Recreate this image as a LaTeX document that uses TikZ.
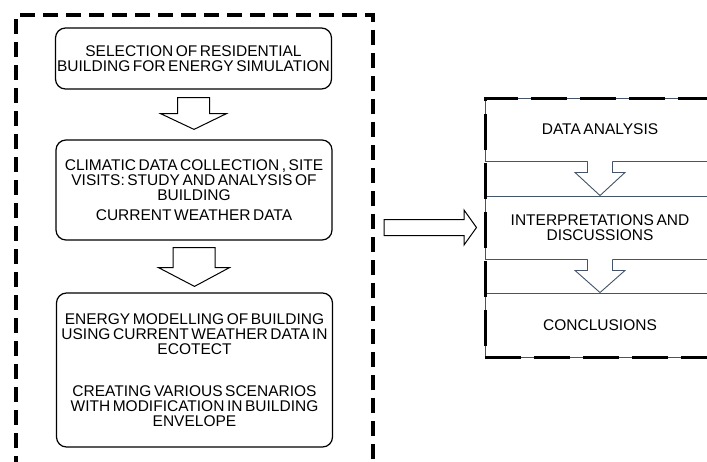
\documentclass[tikz,border=0pt]{standalone}
\usepackage{fontspec}
\setmainfont[WordSpace=0.6]{Liberation Sans}
\usetikzlibrary{positioning}
\usetikzlibrary{calc}

\definecolor{slate}{HTML}{44546A}

% block arrow pointing down: start, tip, half stem, half head, neck offset
\newcommand{\downblock}[5]{%
  \draw[blockarrow] ($(#1)+(-#3,0)$) -- ($(#1)+(-#3,#5)$) -- ($(#1)+(-#4,#5)$)
    -- (#2) -- ($(#1)+(#4,#5)$) -- ($(#1)+(#3,#5)$) -- ($(#1)+(#3,0)$) -- cycle;}
% same, but open at the top (sits on a box edge)
\newcommand{\downopen}[5]{%
  \fill[white] ($(#1)+(-#3,-2)$) -- ($(#1)+(-#3,#5)$) -- ($(#1)+(-#4,#5)$)
    -- (#2) -- ($(#1)+(#4,#5)$) -- ($(#1)+(#3,#5)$) -- ($(#1)+(#3,-2)$) -- cycle;
  \draw[openarrow] ($(#1)+(-#3,0)$) -- ($(#1)+(-#3,#5)$) -- ($(#1)+(-#4,#5)$)
    -- (#2) -- ($(#1)+(#4,#5)$) -- ($(#1)+(#3,#5)$) -- ($(#1)+(#3,0)$);}
% block arrow pointing right
\newcommand{\rightblock}[5]{%
  \draw[blockarrow] ($(#1)+(0,-#3)$) -- ($(#1)+(#5,-#3)$) -- ($(#1)+(#5,-#4)$)
    -- (#2) -- ($(#1)+(#5,#4)$) -- ($(#1)+(#5,#3)$) -- ($(#1)+(0,#3)$) -- cycle;}

\begin{document}
\begin{tikzpicture}[
        x=1pt, y=-1pt,
        font=\fontsize{15.5}{15}\selectfont,
        stepbox/.style={draw, rounded corners=10pt, line width=1.2pt,
                    align=center, minimum width=276pt, inner sep=0pt},
        stagebox/.style={draw=slate, line width=0.9pt, align=center,
                    minimum width=230pt, inner sep=0pt},
        frameL/.style={draw, line width=4pt, dash pattern=on 15pt off 8pt,
                    minimum width=357pt, minimum height=455pt, inner sep=0pt},
        frameR/.style={draw, line width=3pt, dash pattern=on 36pt off 13pt,
                    minimum width=230pt, minimum height=259pt, inner sep=0pt},
        blockarrow/.style={draw, fill=white, line width=1pt, line join=miter},
        openarrow/.style={draw=slate, line width=0.9pt, line join=miter}
    ]
    \useasboundingbox (0,0) rectangle (707,461);

    % ------- left column -------
    \node[stepbox, minimum height=61pt] (s1) at (193.5,58.5)
        {SELECTION OF RESIDENTIAL\\BUILDING FOR ENERGY SIMULATION};
    \node[stepbox, minimum height=100pt] (s2) at (194,190)
        {CLIMATIC DATA COLLECTION , SITE\\VISITS: STUDY AND ANALYSIS OF\\BUILDING\\[5pt]CURRENT WEATHER DATA};
    \node[stepbox, minimum height=154pt] (s3) at (194.5,370)
        {ENERGY MODELLING OF BUILDING\\USING CURRENT WEATHER DATA IN\\ECOTECT\\[27pt]CREATING VARIOUS SCENARIOS\\WITH MODIFICATION IN BUILDING\\ENVELOPE};

    \coordinate (a1) at ($(s1.south)+(0,8)$);
    \coordinate (t1) at ($(s2.north)+(0,-10)$);
    \downblock{a1}{t1}{16}{33}{16}
    \coordinate (a2) at ($(s2.south)+(0,7)$);
    \coordinate (t2) at ($(s3.north)+(0,-6)$);
    \downblock{a2}{t2}{21}{35.5}{20}

    \node[frameL] (fl) at (194.5,242.5) {};

    % ------- right column -------
    \node[stagebox, minimum height=63pt] (r1) at (600,129.5) {DATA ANALYSIS};
    \node[stagebox, minimum height=63pt] (r2) at (600,227.5) {INTERPRETATIONS AND\\DISCUSSIONS};
    \node[stagebox, minimum height=64pt] (r3) at (600,325) {CONCLUSIONS};

    \downopen{r1.south}{r2.north}{12.5}{25}{11}
    \downopen{r2.south}{r3.north}{12.5}{25}{11}

    \node[frameR] (fr) at (600,227.5) {};

    % arrow between the two frames
    \coordinate (h0) at ($(fl.east |- fr.west)+(9,0)$);
    \coordinate (h1) at ($(fr.west)+(-7,0)$);
    \rightblock{h0}{h1}{8}{17.5}{80}

\end{tikzpicture}
\end{document}
